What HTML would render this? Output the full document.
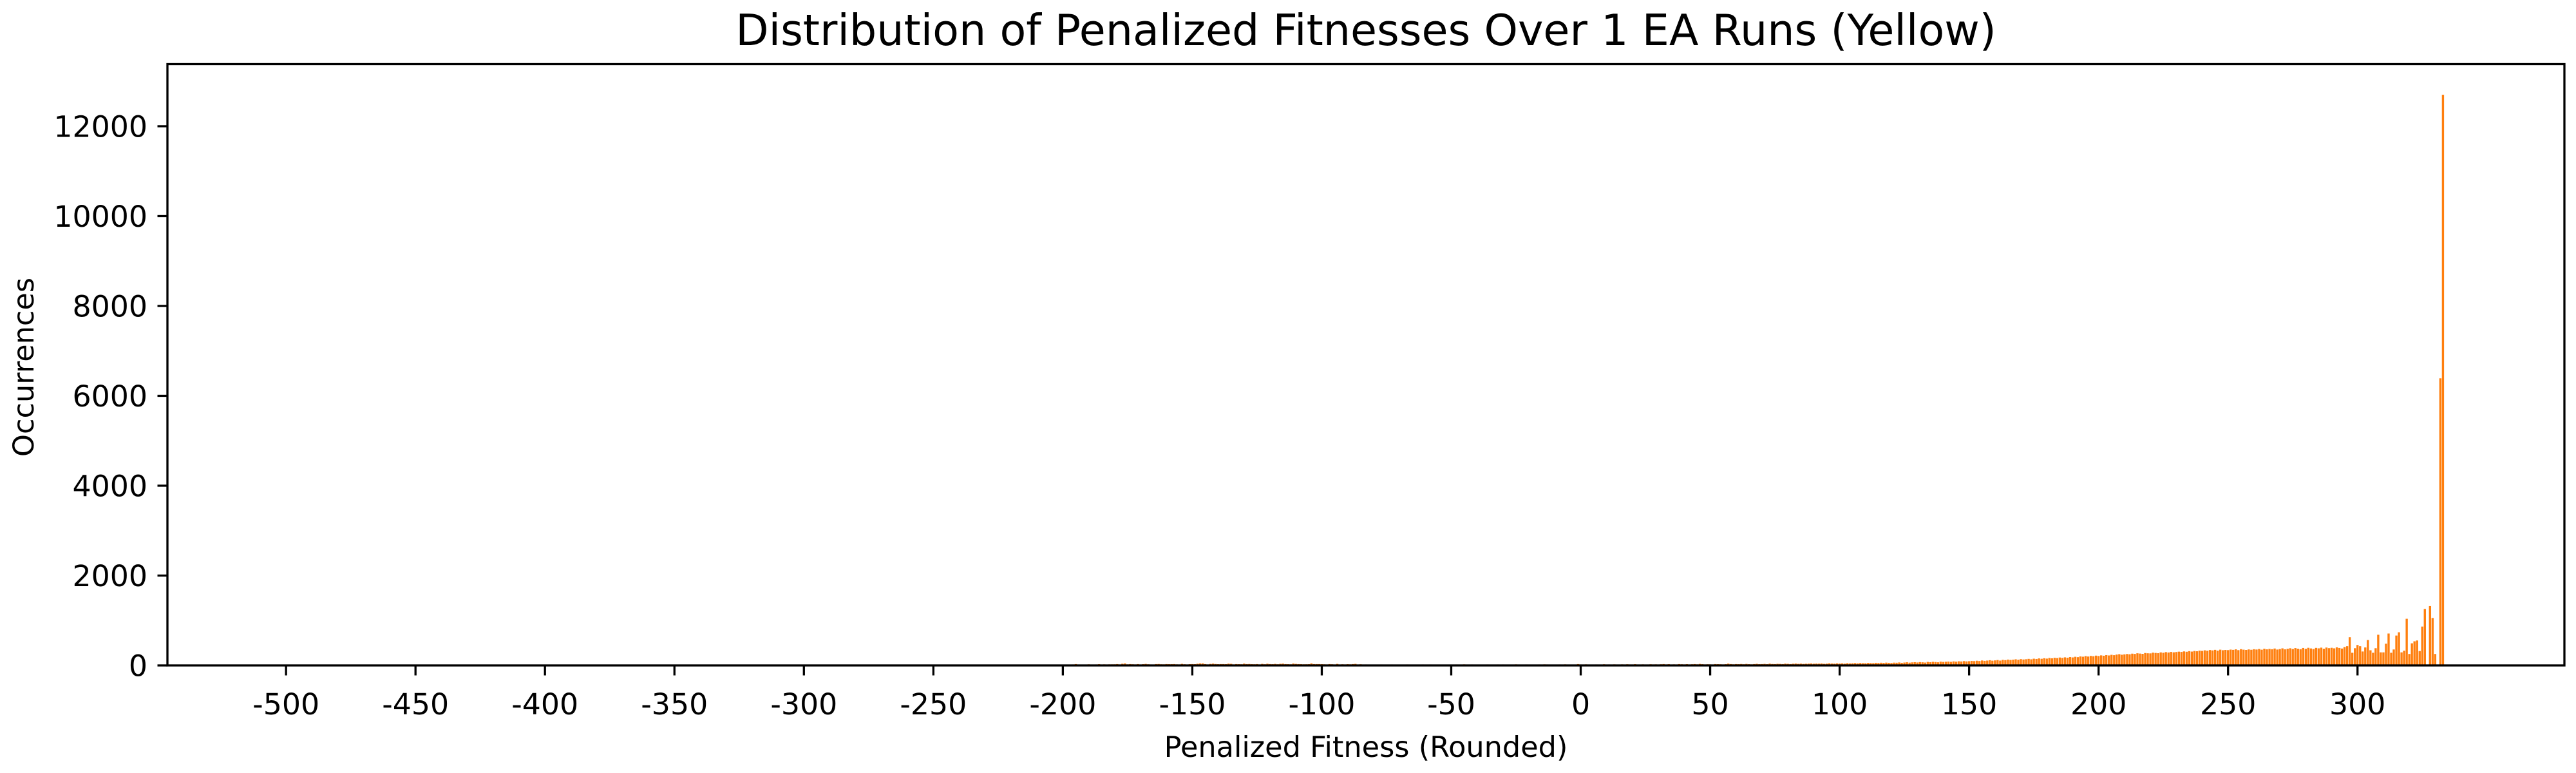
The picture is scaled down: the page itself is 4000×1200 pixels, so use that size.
<!DOCTYPE html>
<html><head><meta charset="utf-8"><style>
html,body{margin:0;padding:0;background:#fff;}
svg{display:block;font-family:"DejaVu Sans","Liberation Sans",sans-serif;}
</style></head><body>
<svg id="chart" width="4000" height="1200" viewBox="0 0 4000 1200" xmlns="http://www.w3.org/2000/svg">
<rect width="4000" height="1200" fill="#fff"/>
<text x="2121" y="70" font-size="66.7" text-anchor="middle" fill="#000">Distribution of Penalized Fitnesses Over 1 EA Runs (Yellow)</text>
<g id="bars"></g>
<g id="axes"></g>
<text x="2121" y="1175" font-size="44.6" text-anchor="middle" fill="#000">Penalized Fitness (Rounded)</text>
<text transform="translate(52,570) rotate(-90)" font-size="44.6" text-anchor="middle" fill="#000">Occurrences</text>
</svg>
<script>
const binStart = -210;
const counts = [
0,0,12,0,0,15,0,0,14,0,
18,20,15,0,22,30,18,15,0,20,
25,18,0,22,28,20,24,20,24,24,
25,30,22,38,45,24,30,26,22,30,
20,28,34,26,22,18,30,32,26,24,
30,28,28,30,24,22,35,26,20,28,
30,28,38,45,45,30,22,34,40,32,
28,30,30,28,40,36,22,30,28,26,
40,30,32,28,26,30,22,35,26,38,
30,28,34,26,36,40,30,28,25,42,
34,30,28,25,26,28,45,30,30,30,
28,25,22,30,26,20,35,18,26,22,
28,24,30,35,20,26,0,22,20,18,
20,0,18,22,0,20,18,22,20,0,
18,20,0,22,18,0,0,16,20,22,
18,0,22,0,20,0,18,20,0,15,
0,20,22,0,18,24,20,0,22,0,
0,18,20,0,22,18,0,20,22,18,
22,20,18,0,0,24,0,20,0,22,
0,20,0,0,22,0,24,22,0,18,
20,0,22,0,24,20,0,20,0,30,
22,0,24,20,0,20,22,18,0,26,
20,22,0,24,20,18,24,20,26,22,
22,28,20,18,24,0,20,26,22,24,
20,26,30,22,28,20,24,18,30,26,
22,28,20,26,30,24,34,28,22,26,
24,18,30,28,26,22,28,40,30,24,
30,28,32,26,34,28,24,30,36,28,
30,34,28,40,32,30,36,34,30,40,
36,30,38,42,36,40,34,38,40,44,
38,42,40,44,36,40,48,42,40,46,
42,46,40,50,44,48,52,46,54,50,
48,56,52,50,58,54,60,56,62,58,
54,62,60,66,58,64,70,62,68,72,
66,74,70,64,78,72,80,76,70,84,
78,82,86,80,90,84,92,88,96,90,
94,100,96,104,98,110,102,108,116,106,
112,120,108,124,118,130,122,128,136,126,
140,132,138,146,136,150,144,156,148,160,
152,166,158,170,164,176,168,180,172,186,
178,192,184,200,194,208,198,212,204,218,
210,224,216,230,222,236,228,242,250,238,
246,254,248,262,256,270,264,258,276,270,
268,284,278,272,290,282,296,288,300,292,
298,306,300,312,304,318,308,322,316,330,
324,336,328,342,334,346,330,350,338,344,
340,352,346,358,340,362,350,344,356,348,
360,354,366,350,372,358,368,360,376,354,
364,380,358,370,382,366,386,372,360,388,
370,392,378,364,390,380,396,372,398,384,
392,380,402,388,376,410,428,628,282,383,
455,428,310,400,565,337,282,383,683,291,
291,483,710,282,355,665,738,291,328,1038,
255,492,537,555,320,865,1257,10,1320,1056,
255,0,6390,12700,10
];
const xTicks = [-500,-450,-400,-350,-300,-250,-200,-150,-100,-50,0,50,100,150,200,250,300];
const yTicks = [0,2000,4000,6000,8000,10000,12000];

const NS = "http://www.w3.org/2000/svg";
const L = 260, R = 3982, T = 99.5, B = 1033;
const xMin = -545.8, xMax = 379.9, yMax = 13383;
const xs = v => L + (v - xMin) / (xMax - xMin) * (R - L);
const ys = v => B - v / yMax * (B - T);
function mk(tag, attrs, parent) {
  const e = document.createElementNS(NS, tag);
  for (const k in attrs) e.setAttribute(k, attrs[k]);
  parent.appendChild(e);
  return e;
}

const bars = document.getElementById('bars');
counts.forEach((c, i) => {
  if (c <= 0) return;
  const v = binStart + i;
  const x0 = xs(v - 0.42), x1 = xs(v + 0.42);
  const r = mk('rect', {x: x0, y: ys(c), width: x1 - x0, height: B - ys(c), fill: '#ff7f0e'}, bars);
  
  
});

const axes = document.getElementById('axes');
const frame = mk('rect', {x: L, y: T, width: R - L, height: B - T, fill: 'none', stroke: '#000', 'stroke-width': 3.3}, axes);


xTicks.forEach(t => {
  const x = xs(t);
  const tk = mk('line', {x1: x, x2: x, y1: B, y2: B + 15.5, stroke: '#000', 'stroke-width': 3.3}, axes);
  
  
  const lb = mk('text', {x: x, y: 1109, 'font-size': 45.8, 'text-anchor': 'middle', fill: '#000'}, axes);
  lb.textContent = String(t);
  
  
});
yTicks.forEach(t => {
  const y = ys(t);
  const tk = mk('line', {x1: L - 15.5, x2: L, y1: y, y2: y, stroke: '#000', 'stroke-width': 3.3}, axes);
  
  
  const lb = mk('text', {x: 229, y: y + 16.5, 'font-size': 45.8, 'text-anchor': 'end', fill: '#000'}, axes);
  lb.textContent = String(t);
  
  
});
</script>
</body></html>
